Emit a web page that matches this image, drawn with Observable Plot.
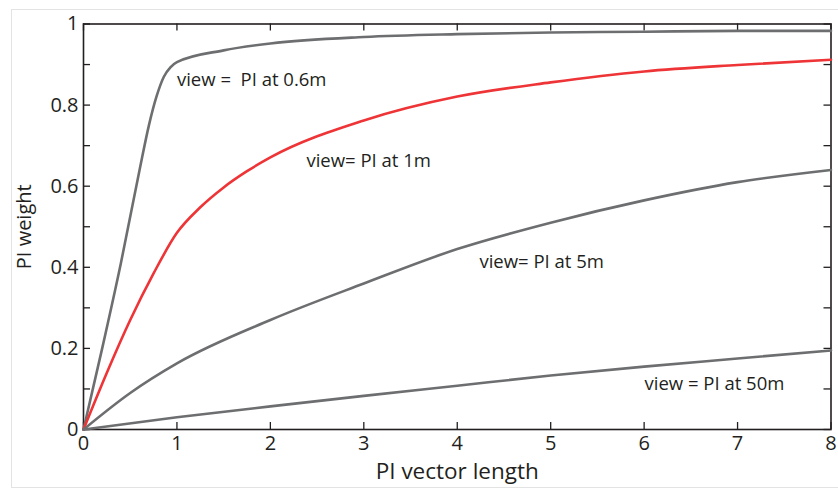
<!DOCTYPE html>
<html><head><meta charset="utf-8">
<script src="https://cdn.jsdelivr.net/npm/d3@7"></script>
<script src="https://cdn.jsdelivr.net/npm/@observablehq/plot@0.6"></script>
<style>
body{margin:0;background:#fff;}
#wrap{position:relative;width:838px;height:489px;overflow:hidden;background:#fff;}
#border{position:absolute;left:11px;top:9px;width:900px;height:479px;border:1px solid #e3e3e3;box-sizing:border-box;}
#chart{position:absolute;left:0;top:0;}
#chart text{white-space:pre;}
</style></head><body>
<div id="wrap"><div id="border"></div><div id="chart"></div></div>
<script>
// PI vector length (x) and PI weight (y) for each view distance
const len06 = [0, 0.2, 0.4, 0.6, 0.7, 0.78, 0.86, 0.93, 1.0, 1.5, 2, 3, 4, 5, 6, 7, 8];
const w06   = [0, 0.2, 0.41, 0.64, 0.75, 0.82, 0.87, 0.893, 0.906, 0.935, 0.952, 0.968, 0.975, 0.979, 0.981, 0.983, 0.983];
const len1  = [0, 0.25, 0.5, 0.75, 1.0, 1.25, 1.5, 1.75, 2, 3, 4, 5, 6, 7, 8];
const w1    = [0, 0.14, 0.27, 0.385, 0.485, 0.548, 0.597, 0.637, 0.671, 0.762, 0.821, 0.856, 0.883, 0.899, 0.912];
const len5  = [0, 0.5, 1, 2, 3, 4, 5, 6, 7, 8];
const w5    = [0, 0.09, 0.163, 0.27, 0.36, 0.445, 0.51, 0.565, 0.61, 0.64];
const len50 = [0, 1, 2, 3, 4, 5, 6, 7, 8];
const w50   = [0, 0.03, 0.057, 0.083, 0.108, 0.133, 0.155, 0.175, 0.195];

const xTicks = [0, 1, 2, 3, 4, 5, 6, 7, 8];
const yMinorTicks = [0, 0.1, 0.2, 0.3, 0.4, 0.5, 0.6, 0.7, 0.8, 0.9, 1];
const yLabelTicks = [0, 0.2, 0.4, 0.6, 0.8, 1];

const labelText = ["view =  PI at 0.6m", "view= PI at 1m", "view= PI at 5m", "view = PI at 50m"];
const labelX = [1.0, 2.386, 4.237, 6.004];
const labelY = [0.862, 0.663, 0.412, 0.113];

const series = [
  {len: len06, w: w06, color: "#6d6e70"},
  {len: len1, w: w1, color: "#ee3436"},
  {len: len5, w: w5, color: "#6d6e70"},
  {len: len50, w: w50, color: "#6d6e70"}
];
const rows = series.flatMap((s, i) => s.len.map((v, j) => ({series: i, x: v, y: s.w[j], color: s.color})));
const labels = labelText.map((t, i) => ({t, x: labelX[i], y: labelY[i]}));

const axisColor = "#231f20";
const font = "'Open Sans', sans-serif";
const W = 838, H = 489, mL = 83, mR = 7.5, mT = 23.5, mB = 60;
const T = 7;
const fw = W - mL - mR, fh = H - mT - mB;
const tickStyle = {stroke: axisColor, strokeWidth: 1.3};

const chart = Plot.plot({
  width: W,
  height: H,
  marginLeft: mL,
  marginRight: mR,
  marginTop: mT,
  marginBottom: mB,
  style: {fontFamily: font, color: axisColor, background: "transparent", overflow: "visible"},
  x: {domain: [0, 8]},
  y: {domain: [0, 1]},
  marks: [
    // inward ticks on all four sides
    Plot.ruleX(xTicks, {x: d => d, insetTop: fh - T, ...tickStyle}),
    Plot.ruleX(xTicks, {x: d => d, insetBottom: fh - T, ...tickStyle}),
    Plot.ruleY(yMinorTicks, {y: d => d, insetRight: fw - T, ...tickStyle}),
    Plot.ruleY(yMinorTicks, {y: d => d, insetLeft: fw - T, ...tickStyle}),
    // tick labels and axis titles
    Plot.axisX(xTicks, {anchor: "bottom", tickSize: 0, tickPadding: 6, fontSize: 20, fill: axisColor,
      tickFormat: d => String(d), label: null}),
    Plot.axisX([], {anchor: "bottom", tickSize: 0, fontSize: 22.5, fill: axisColor,
      label: "PI vector length", labelAnchor: "center", labelArrow: "none", labelOffset: 49}),
    Plot.axisY(yLabelTicks, {anchor: "left", tickSize: 0, tickPadding: 5, fontSize: 20, fill: axisColor,
      tickFormat: d => String(d), label: "PI weight", labelAnchor: "center", labelArrow: "none", labelOffset: 67}),
    Plot.frame({stroke: axisColor, strokeWidth: 1.6}),
    Plot.line(rows, {x: "x", y: "y", z: "series", stroke: "color", strokeWidth: 2.6, curve: "monotone-x"}),
    Plot.text(labels, {x: "x", y: "y", text: "t", textAnchor: "start", lineAnchor: "middle", fontSize: 18.5, fill: axisColor})
  ]
});
document.getElementById("chart").appendChild(chart);
</script>
</body></html>
